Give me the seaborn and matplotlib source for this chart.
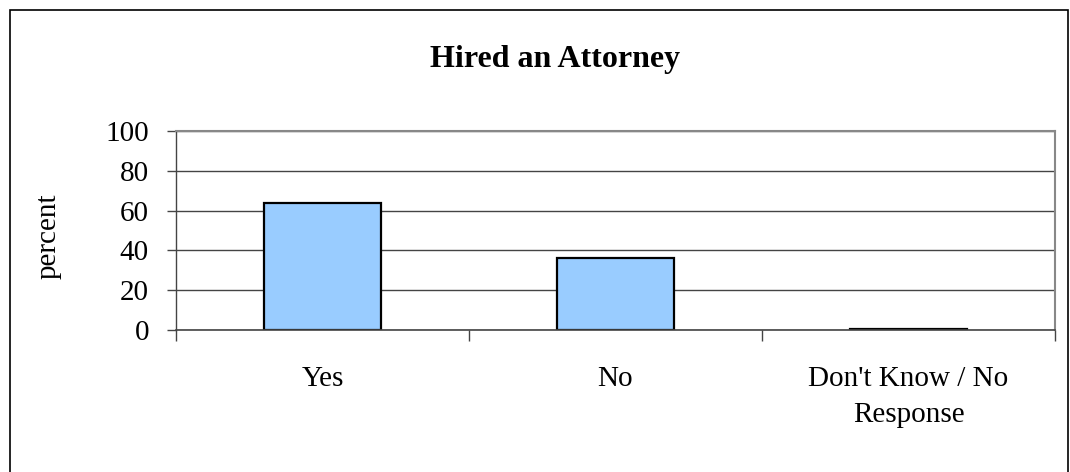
import matplotlib
matplotlib.use("Agg")
import matplotlib.pyplot as plt
import matplotlib.patches as mpatches
import seaborn as sns
import pandas as pd

categories = ["Yes", "No", "Don't Know / No\nResponse"]
values = [63.7, 36.3, 0.4]
yticks = [0, 20, 40, 60, 80, 100]

sns.set_theme(style="white")
plt.rcParams['font.family'] = ['Liberation Serif', 'DejaVu Serif']
plt.rcParams['text.color'] = 'black'
plt.rcParams['xtick.color'] = 'black'
plt.rcParams['ytick.color'] = 'black'
plt.rcParams['axes.labelcolor'] = 'black'

df = pd.DataFrame({"cat": categories, "val": values})

W, H = 1070, 472
fig = plt.figure(figsize=(W / 100, H / 100), dpi=100)
ax = fig.add_axes([176 / W, 1 - 330 / H, (1055 - 176) / W, (330 - 131) / H])

sns.barplot(data=df, x="cat", y="val", ax=ax, color="#99CCFF", saturation=1,
            edgecolor="black", linewidth=1.6, width=0.4)

ax.set_xlim(-0.5, 2.5)
ax.set_ylim(0, 100)
ax.set_yticks(yticks)
ax.set_yticklabels([str(t) for t in yticks], fontsize=21)
ax.yaxis.grid(True, color="#444444", linewidth=1)
ax.set_axisbelow(True)

ax.set_xticks(range(len(categories)))
ax.set_xticklabels(categories, fontsize=21, linespacing=1.5)
ax.tick_params(axis="x", which="major", length=0, pad=26)
ax.set_xticks([-0.5, 0.5, 1.5, 2.5], minor=True)
ax.tick_params(axis="x", which="minor", length=8, width=1, color="#444444",
               direction="out", bottom=True)
ax.tick_params(axis="y", which="major", length=6.5, width=1, color="#444444",
               direction="out", left=True, pad=13)

ax.set_xlabel("")
ax.set_ylabel("percent", fontsize=21)
ax.yaxis.set_label_coords((62 - 176) / (1055 - 176), (330 - 236.5) / (330 - 131))

for side in ["top", "right"]:
    ax.spines[side].set_color("#888888")
    ax.spines[side].set_linewidth(1.5)
ax.spines["left"].set_color("#444444")
ax.spines["bottom"].set_color("#444444")
ax.spines["left"].set_linewidth(1)
ax.spines["bottom"].set_linewidth(1.2)

fig.text(555 / W, 1 - 67 / H, "Hired an Attorney", ha="center", va="baseline",
         fontsize=23, fontweight="bold")

fig.patches.append(mpatches.Rectangle((10 / W, -0.01), (1068 - 10) / W, 1 - 10 / H + 0.01,
                                      transform=fig.transFigure, fill=False,
                                      edgecolor="black", linewidth=1.2))

fig.savefig("out.png", dpi=100)
